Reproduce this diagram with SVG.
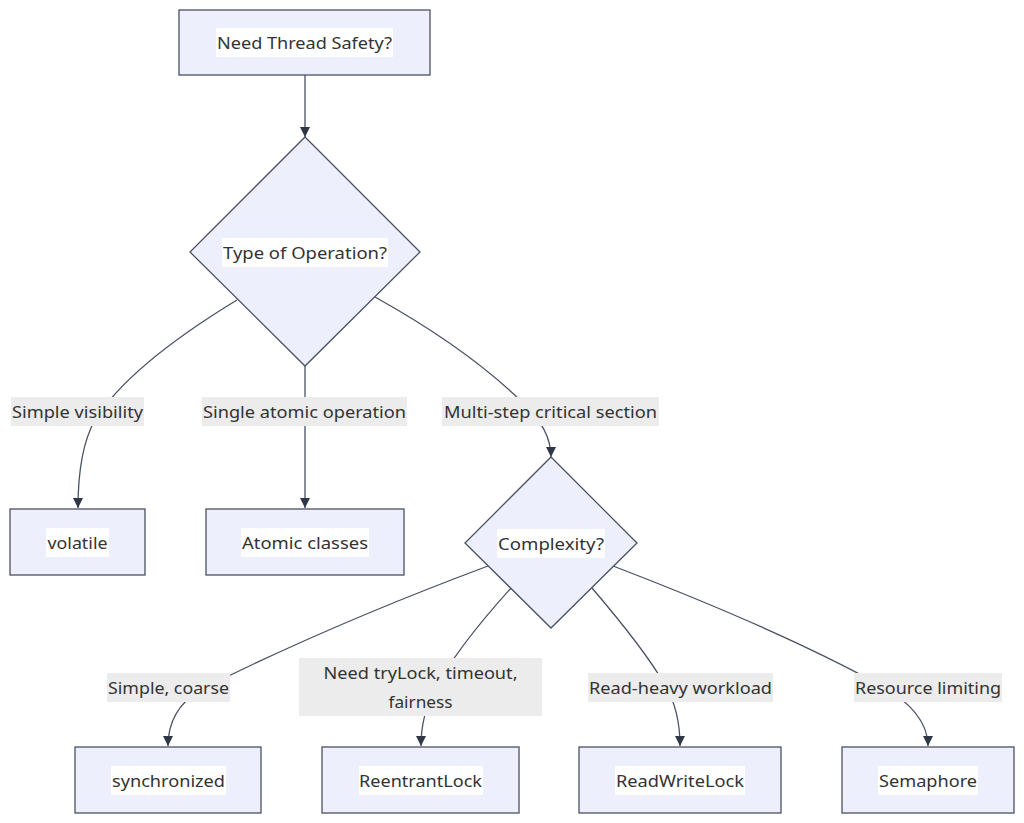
<svg xmlns="http://www.w3.org/2000/svg" width="1024" height="823" viewBox="0 0 1024 823">
<style>
.node rect.box,.node polygon{fill:#edf0fc;stroke:#4a5163;stroke-width:1.3}
.node rect.tbg{fill:#ffffff}
.edge{fill:none;stroke:#4a5163;stroke-width:1.3}
.lbg{fill:#ececec}
text{font-family:"Noto Sans","Open Sans","Liberation Sans",sans-serif;font-size:16px;fill:#333333;text-anchor:middle;dominant-baseline:central}
</style>
<defs>
<marker id="arr" viewBox="0 0 10 10" refX="10" refY="5" markerWidth="10" markerHeight="10" markerUnits="userSpaceOnUse" orient="auto">
<path d="M0,0 L10,5 L0,10 z" fill="#2f3747"/>
</marker>
</defs>
<g id="connectors">
<path class="edge" d="M305,75 L305,137" marker-end="url(#arr)"/>
<path class="edge" d="M237,300 Q130,365 95,420 Q78,450 78,508" marker-end="url(#arr)"/>
<path class="edge" d="M305,366 L305,508" marker-end="url(#arr)"/>
<path class="edge" d="M375,297 Q470,350 525,405 Q551,430 551,457" marker-end="url(#arr)"/>
<path class="edge" d="M488,566 Q330,625 200,690 Q168,710 168,746" marker-end="url(#arr)"/>
<path class="edge" d="M511,588 Q455,650 435,690 Q421,715 421,746" marker-end="url(#arr)"/>
<path class="edge" d="M592,588 Q645,650 665,685 Q680,710 680,746" marker-end="url(#arr)"/>
<path class="edge" d="M613,566 Q780,630 880,685 Q928,712 928,746" marker-end="url(#arr)"/>
</g>
<g id="edge-labels">
<rect class="lbg" x="11" y="397" width="133" height="29"/>
<text x="77.5" y="411.5" textLength="131" lengthAdjust="spacingAndGlyphs">Simple visibility</text>
<rect class="lbg" x="202" y="397" width="205" height="29"/>
<text x="304.5" y="411.5" textLength="203" lengthAdjust="spacingAndGlyphs">Single atomic operation</text>
<rect class="lbg" x="442" y="397" width="217" height="29"/>
<text x="550.5" y="411.5" textLength="213" lengthAdjust="spacingAndGlyphs">Multi-step critical section</text>
<rect class="lbg" x="107" y="673" width="123" height="29"/>
<text x="168.5" y="687.5" textLength="121" lengthAdjust="spacingAndGlyphs">Simple, coarse</text>
<rect class="lbg" x="299" y="658" width="243" height="58"/>
<text x="420.5" y="673" textLength="194" lengthAdjust="spacingAndGlyphs">Need tryLock, timeout,</text>
<text x="420.5" y="702" textLength="64" lengthAdjust="spacingAndGlyphs">fairness</text>
<rect class="lbg" x="588" y="673" width="185" height="29"/>
<text x="680.5" y="687.5" textLength="183" lengthAdjust="spacingAndGlyphs">Read-heavy workload</text>
<rect class="lbg" x="854" y="673" width="148" height="29"/>
<text x="928" y="687.5" textLength="146" lengthAdjust="spacingAndGlyphs">Resource limiting</text>
</g>
<g id="start" class="node">
<rect class="box" x="179" y="10" width="251" height="65"/>
<rect class="tbg" x="216" y="28" width="177" height="29"/>
<text x="304.5" y="42.5" textLength="175" lengthAdjust="spacingAndGlyphs">Need Thread Safety?</text>
</g>
<g id="optype" class="node">
<polygon points="305,137 420,252 305,366 190,252"/>
<rect class="tbg" x="222" y="238" width="166" height="29"/>
<text x="305" y="252.5" textLength="164" lengthAdjust="spacingAndGlyphs">Type of Operation?</text>
</g>
<g id="volatile" class="node">
<rect class="box" x="10" y="509" width="135" height="66"/>
<rect class="tbg" x="46" y="528" width="63" height="29"/>
<text x="77.5" y="542.5" textLength="60" lengthAdjust="spacingAndGlyphs">volatile</text>
</g>
<g id="atomic" class="node">
<rect class="box" x="206" y="509" width="198" height="66"/>
<rect class="tbg" x="241" y="528" width="128" height="29"/>
<text x="305" y="542.5" textLength="126" lengthAdjust="spacingAndGlyphs">Atomic classes</text>
</g>
<g id="complexity" class="node">
<polygon points="551,457 637,543 551,628 465,543"/>
<rect class="tbg" x="497" y="529" width="108" height="29"/>
<text x="551" y="543.5" textLength="106" lengthAdjust="spacingAndGlyphs">Complexity?</text>
</g>
<g id="synchronized" class="node">
<rect class="box" x="75" y="747" width="186" height="66"/>
<rect class="tbg" x="111" y="766" width="115" height="29"/>
<text x="168.5" y="780.5" textLength="113" lengthAdjust="spacingAndGlyphs">synchronized</text>
</g>
<g id="reentrantlock" class="node">
<rect class="box" x="322" y="747" width="197" height="66"/>
<rect class="tbg" x="359" y="766" width="124" height="29"/>
<text x="420.5" y="780.5" textLength="123" lengthAdjust="spacingAndGlyphs">ReentrantLock</text>
</g>
<g id="readwritelock" class="node">
<rect class="box" x="579" y="747" width="202" height="66"/>
<rect class="tbg" x="615" y="766" width="130" height="29"/>
<text x="680" y="780.5" textLength="128" lengthAdjust="spacingAndGlyphs">ReadWriteLock</text>
</g>
<g id="semaphore" class="node">
<rect class="box" x="842" y="747" width="172" height="66"/>
<rect class="tbg" x="878" y="766" width="100" height="29"/>
<text x="928" y="780.5" textLength="98" lengthAdjust="spacingAndGlyphs">Semaphore</text>
</g>
</svg>
